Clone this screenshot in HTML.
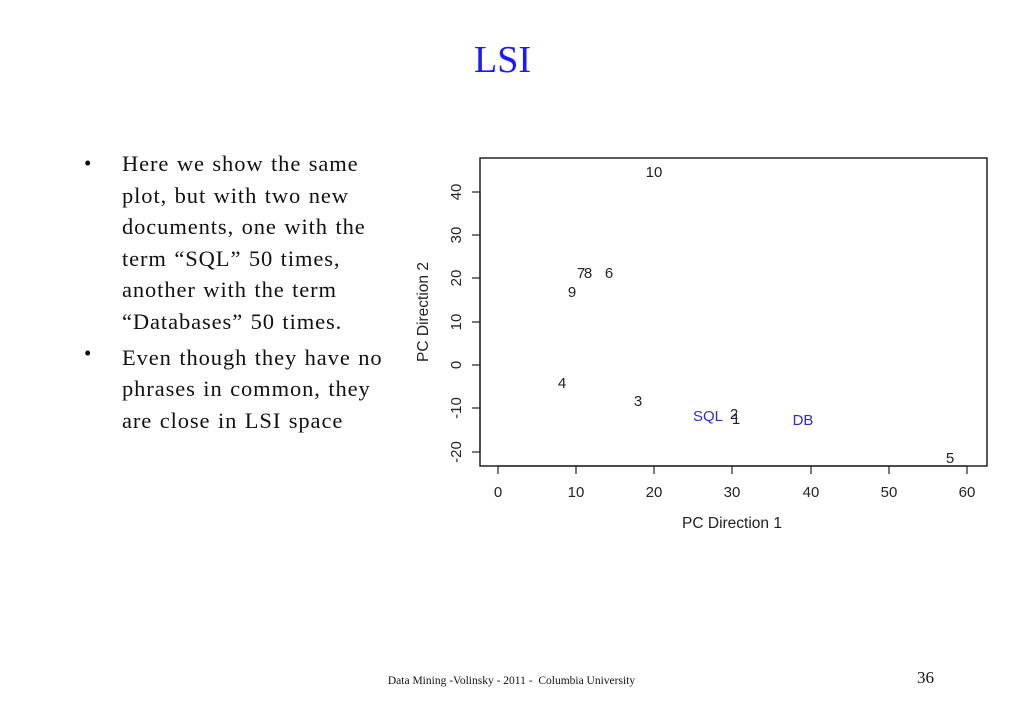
<!DOCTYPE html>
<html><head><style>
body{margin:0;width:1023px;height:708px;background:#fff;position:relative;overflow:hidden;font-family:"Liberation Serif",serif}
.t{position:absolute;white-space:nowrap}
</style></head><body>
<div class="t" style="left:0;width:1005px;text-align:center;top:38px;font-size:38px;color:#1a1aff">LSI</div>
<div class="t" style="left:84px;top:148px;font-size:21px;line-height:31.6px;color:#111">
<div>•</div><div style="height:158px"></div><div>•</div></div>
<div class="t" style="left:122px;top:148px;font-size:22.5px;letter-spacing:0.9px;word-spacing:1px;line-height:31.6px;color:#111">
Here we show the same<br>plot, but with two new<br>documents, one with the<br>term “SQL” 50 times,<br>another with the term<br>“Databases” 50 times.<br>
<div style="height:4px"></div>
Even though they have no<br>phrases in common, they<br>are close in LSI space</div>
<svg class="t" style="left:0;top:0" width="1023" height="708" font-family="Liberation Sans, sans-serif" font-size="15">
<rect x="480" y="158" width="507" height="308" fill="none" stroke="#222" stroke-width="1.5"/>
<g stroke="#222" stroke-width="1.2">
<line x1="498" y1="466" x2="967" y2="466"/>
<line x1="498" y1="466" x2="498" y2="474"/><line x1="576" y1="466" x2="576" y2="474"/><line x1="654" y1="466" x2="654" y2="474"/><line x1="732" y1="466" x2="732" y2="474"/><line x1="811" y1="466" x2="811" y2="474"/><line x1="889" y1="466" x2="889" y2="474"/><line x1="967" y1="466" x2="967" y2="474"/>
<line x1="480" y1="192" x2="480" y2="452"/>
<line x1="472" y1="192" x2="480" y2="192"/><line x1="472" y1="235" x2="480" y2="235"/><line x1="472" y1="278" x2="480" y2="278"/><line x1="472" y1="322" x2="480" y2="322"/><line x1="472" y1="365" x2="480" y2="365"/><line x1="472" y1="408" x2="480" y2="408"/><line x1="472" y1="452" x2="480" y2="452"/>
</g>
<g text-anchor="middle" fill="#222">
<text x="498" y="497">0</text><text x="576" y="497">10</text><text x="654" y="497">20</text><text x="732" y="497">30</text><text x="811" y="497">40</text><text x="889" y="497">50</text><text x="967" y="497">60</text>
<g transform="translate(461,0)">
<text transform="translate(0,192) rotate(-90)">40</text><text transform="translate(0,235) rotate(-90)">30</text><text transform="translate(0,278) rotate(-90)">20</text><text transform="translate(0,322) rotate(-90)">10</text><text transform="translate(0,365) rotate(-90)">0</text><text transform="translate(0,408) rotate(-90)">-10</text><text transform="translate(0,452) rotate(-90)">-20</text>
</g>
<text x="732" y="528" font-size="15.5">PC Direction 1</text>
<text transform="translate(428,312) rotate(-90)" font-size="15.5">PC Direction 2</text>
<text x="654" y="177">10</text>
<text x="581" y="278">7</text><text x="588" y="278">8</text><text x="609" y="278">6</text>
<text x="572" y="297">9</text><text x="562" y="388">4</text><text x="638" y="406">3</text>
<text x="734" y="419">2</text><text x="736" y="424">1</text><text x="950" y="463">5</text>
<text x="708" y="421" fill="#2b2bdd">SQL</text><text x="803" y="425" fill="#2b2bdd">DB</text>
</g>
</svg>
<div class="t" style="left:0;width:1023px;text-align:center;top:675px;font-size:11.5px;color:#111">Data Mining -Volinsky - 2011 -&nbsp; Columbia University</div>
<div class="t" style="left:917px;top:668px;font-size:17px;color:#111">36</div>
</body></html>
